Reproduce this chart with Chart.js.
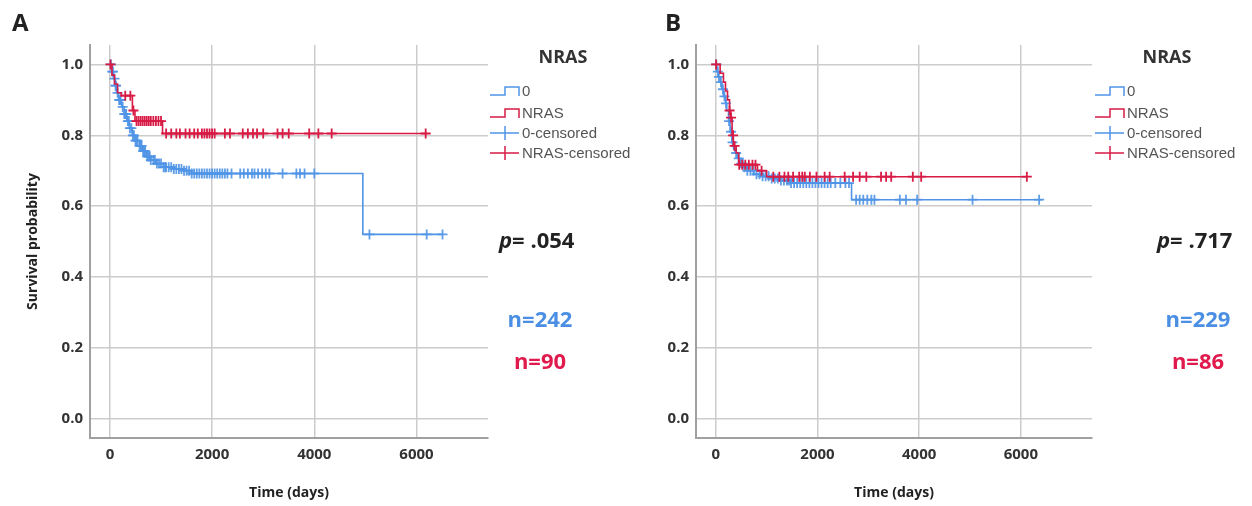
<!DOCTYPE html>
<html>
<head>
<meta charset="utf-8">
<script src="https://cdn.jsdelivr.net/npm/chart.js@4/dist/chart.umd.min.js"></script>
<style>
  body { margin: 0; background: #fff; }
  .panel { position: absolute; top: 0; height: 506px; }
</style>
</head>
<body>
<div class="panel" style="left:0;width:700px"><canvas id="chartA" width="700" height="506"></canvas></div>
<div class="panel" style="left:626px;width:626px"><canvas id="chartB" width="626" height="506"></canvas></div>
<script>
// axis ticks
const xTicks = [0, 2000, 4000, 6000];
const yTicks = [0, 0.2, 0.4, 0.6, 0.8, 1.0];
const legendLabels = ["0", "NRAS", "0-censored", "NRAS-censored"];

// Panel A: Kaplan-Meier steps [time, survival]
const aWildSteps = [[0,1.0],[40,0.98],[70,0.96],[100,0.94],[130,0.92],[170,0.90],[230,0.88],[280,0.86],[330,0.84],[380,0.82],[440,0.80],[500,0.785],[580,0.77],[640,0.755],[720,0.74],[800,0.73],[900,0.72],[1050,0.71],[1250,0.705],[1450,0.70],[1600,0.692],[4950,0.52],[6510,0.52]];
const aNrasSteps = [[0,1.0],[40,0.97],[90,0.945],[150,0.92],[220,0.912],[440,0.87],[490,0.84],[1030,0.805],[6210,0.805]];
const aWildCensored = [20,45,60,90,110,120,150,180,200,210,250,280,300,320,350,370,390,420,450,470,500,520,540,580,600,620,650,670,690,730,760,780,800,850,880,920,960,1000,1050,1080,1100,1150,1200,1250,1300,1350,1400,1450,1500,1550,1600,1650,1700,1750,1800,1850,1900,1950,2000,2050,2100,2150,2200,2250,2300,2380,2550,2620,2700,2780,2830,2900,2980,3050,3120,3380,3650,3720,3810,4000,5080,6200,6510];
const aNrasCensored = [10,300,400,460,520,560,600,640,680,720,760,800,850,900,950,1000,1100,1200,1300,1370,1480,1560,1650,1720,1800,1850,1900,1950,2000,2050,2250,2350,2600,2700,2800,2880,3000,3280,3380,3500,3900,4080,4340,6180];

// Panel B
const bWildSteps = [[0,1.0],[15,0.98],[50,0.965],[85,0.95],[120,0.93],[150,0.91],[190,0.89],[215,0.87],[250,0.84],[280,0.81],[315,0.78],[350,0.76],[380,0.75],[430,0.735],[475,0.72],[540,0.71],[610,0.70],[750,0.69],[870,0.684],[1100,0.678],[1260,0.672],[1460,0.665],[2670,0.618],[6420,0.618]];
const bNrasSteps = [[0,1.0],[85,0.975],[150,0.95],[190,0.925],[230,0.90],[270,0.87],[290,0.85],[320,0.80],[345,0.77],[400,0.75],[450,0.717],[820,0.70],[1000,0.683],[6120,0.683]];
const bWildCensored = [10,40,60,100,140,170,200,260,300,330,400,450,500,530,560,620,680,740,800,860,920,980,1040,1100,1160,1220,1280,1340,1400,1440,1480,1540,1600,1660,1720,1780,1840,1900,1960,2020,2080,2140,2200,2260,2350,2450,2550,2620,2760,2830,2900,2980,3060,3120,3620,3740,3960,5050,6360];
const bNrasCensored = [5,270,300,340,370,460,520,580,650,720,780,900,1130,1250,1350,1425,1520,1640,1700,1750,1850,1980,2140,2240,2535,2700,2830,2960,3250,3350,3450,3875,4040,6118];

const BLUE = "#4f94e6";
const RED = "#d81b45";
const FONT = "'Open Sans', 'Noto Sans', sans-serif";

function survivalAt(steps, t) {
  let s = steps[0][1];
  for (const [st, sv] of steps) if (st <= t) s = sv;
  return s;
}

function stepData(steps) {
  return steps.map(([t, s]) => ({ x: t, y: s }));
}

function censorData(steps, times) {
  return times.map((t) => ({ x: t, y: survivalAt(steps, t) }));
}

function makePanel(id, p) {
  const annotations = {
    id: "annot" + id,
    afterDraw(chart) {
      const ctx = chart.ctx;
      const area = chart.chartArea;
      ctx.save();
      ctx.fillStyle = "#222";
      ctx.textBaseline = "middle";

      // panel letter
      ctx.font = "bold 24px " + FONT;
      ctx.textAlign = "left";
      ctx.fillText(p.letter, p.letterX, 24);

      // axis titles
      ctx.font = "bold 14px " + FONT;
      ctx.textAlign = "center";
      ctx.fillText("Time (days)", (area.left + area.right) / 2, 493);
      if (p.yTitle) {
        ctx.save();
        ctx.translate(33, (area.top + area.bottom) / 2);
        ctx.rotate(-Math.PI / 2);
        ctx.fillText("Survival probability", 0, 0);
        ctx.restore();
      }

      // legend
      ctx.fillStyle = "#333";
      ctx.font = "bold 18px " + FONT;
      ctx.fillText("NRAS", p.legTitleX, 58);
      const rows = [91, 113, 133, 153];
      const cols = [BLUE, RED, BLUE, RED];
      ctx.font = "15px 'Liberation Sans', Arial, sans-serif";
      ctx.textAlign = "left";
      rows.forEach((y, i) => {
        const x0 = p.legX;
        ctx.strokeStyle = cols[i];
        ctx.lineWidth = 1.5;
        ctx.beginPath();
        if (i < 2) {
          ctx.moveTo(x0, y + 4);
          ctx.lineTo(x0 + 15, y + 4);
          ctx.lineTo(x0 + 15, y - 4);
          ctx.lineTo(x0 + 29, y - 4);
          ctx.lineTo(x0 + 29, y + 5);
        } else {
          ctx.moveTo(x0, y);
          ctx.lineTo(x0 + 29, y);
          ctx.moveTo(x0 + 15, y - 7);
          ctx.lineTo(x0 + 15, y + 7);
        }
        ctx.stroke();
        ctx.fillStyle = "#555";
        ctx.fillText(legendLabels[i], x0 + 32, y + 1);
      });

      // p value
      ctx.fillStyle = "#222";
      ctx.font = "italic bold 22px " + FONT;
      ctx.fillText("p", p.pX, 242);
      const pw = ctx.measureText("p").width;
      ctx.font = "bold 22px " + FONT;
      ctx.fillText("= " + p.pValue, p.pX + pw, 242);

      // group sizes
      ctx.textAlign = "center";
      ctx.fillStyle = "#4a8fe3";
      ctx.fillText(p.nWild, p.nX, 321);
      ctx.fillStyle = "#e01a4c";
      ctx.fillText(p.nNras, p.nX, 363);
      ctx.restore();
    },
  };

  new Chart(document.getElementById(id), {
    type: "scatter",
    data: {
      datasets: [
        {
          data: censorData(p.nrasSteps, p.nrasCensored),
          pointStyle: "cross", pointRadius: 5, borderWidth: 1.8,
          borderColor: RED, backgroundColor: RED,
        },
        {
          data: stepData(p.nrasSteps), showLine: true, stepped: "before",
          pointRadius: 0, borderWidth: 1.6, borderColor: RED, fill: false,
        },
        {
          data: censorData(p.wildSteps, p.wildCensored),
          pointStyle: "cross", pointRadius: 5, borderWidth: 1.8,
          borderColor: "rgba(79,148,230,0.9)", backgroundColor: BLUE,
        },
        {
          data: stepData(p.wildSteps), showLine: true, stepped: "before",
          pointRadius: 0, borderWidth: 1.6, borderColor: BLUE, fill: false,
        },
      ],
    },
    options: {
      responsive: false,
      animation: false,
      events: [],
      layout: { padding: { left: 0, top: 45, right: p.padRight, bottom: 0 } },
      plugins: { legend: { display: false }, tooltip: { enabled: false } },
      scales: {
        x: {
          type: "linear", min: -390, max: 7400,
          afterFit: (s) => { s.height = 68; },
          afterBuildTicks: (s) => { s.ticks = xTicks.map((v) => ({ value: v })); },
          ticks: { color: "#333", padding: 8, font: { family: FONT, size: 15, weight: "bold" }, callback: (v) => String(v) },
          grid: { color: "#cccccc", lineWidth: 1.5, drawTicks: false },
          border: { display: true, color: "#a0a0a0", width: 2 },
        },
        y: {
          type: "linear", min: -0.055, max: 1.055,
          afterFit: (s) => { s.width = p.yWidth; },
          afterBuildTicks: (s) => { s.ticks = yTicks.map((v) => ({ value: v })); },
          ticks: { color: "#333", padding: 7, font: { family: FONT, size: 15, weight: "bold" }, callback: (v) => v.toFixed(1) },
          grid: { color: "#cccccc", lineWidth: 1.5, drawTicks: false },
          border: { display: true, color: "#a0a0a0", width: 2 },
        },
      },
    },
    plugins: [annotations],
  });
}

makePanel("chartA", {
  letter: "A", letterX: 12, yTitle: true, yWidth: 90, padRight: 212,
  wildSteps: aWildSteps, nrasSteps: aNrasSteps,
  wildCensored: aWildCensored, nrasCensored: aNrasCensored,
  legTitleX: 563, legX: 490, pX: 499, pValue: ".054", nX: 540,
  nWild: "n=242", nNras: "n=90",
});

makePanel("chartB", {
  letter: "B", letterX: 39, yTitle: false, yWidth: 70, padRight: 160,
  wildSteps: bWildSteps, nrasSteps: bNrasSteps,
  wildCensored: bWildCensored, nrasCensored: bNrasCensored,
  legTitleX: 541, legX: 469, pX: 531, pValue: ".717", nX: 572,
  nWild: "n=229", nNras: "n=86",
});
</script>
</body>
</html>
